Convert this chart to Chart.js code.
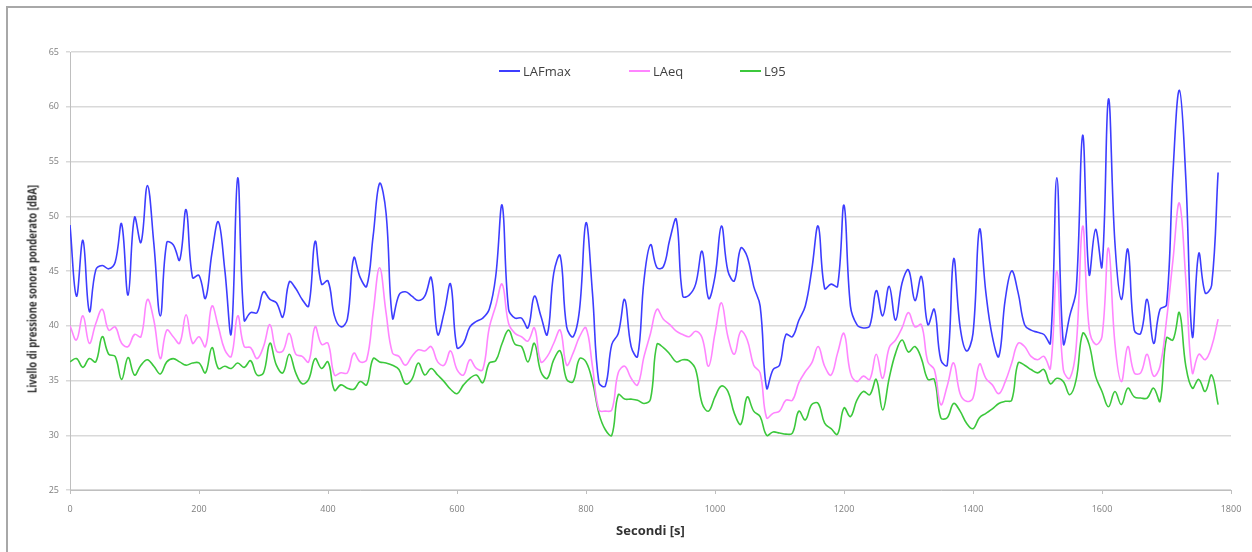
<!DOCTYPE html>
<html>
<head>
<meta charset="utf-8">
<title>Livello di pressione sonora</title>
<script src="https://cdn.jsdelivr.net/npm/chart.js@4.4.1/dist/chart.umd.min.js"></script>
<style>
  html, body { margin: 0; padding: 0; background: #ffffff; }
  #wrap { position: relative; width: 1252px; height: 552px; overflow: hidden; background: #fff; }
  #frame { position: absolute; left: 6px; top: 6px; width: 1300px; height: 600px;
           border-top: 2px solid #a8a8a8; border-left: 2px solid #a8a8a8; box-sizing: border-box; }
  #chart { position: absolute; left: 0; top: 0; }
  .leg { position: absolute; top: 61px; height: 20px; display: flex; align-items: center;
         font-family: 'Open Sans', sans-serif; font-size: 13px; color: #404040; }
  .leg span.sw { display: inline-block; width: 21px; height: 2px; margin-right: 3px; }
  #ytitle { position: absolute; left: 32px; top: 289px; white-space: nowrap;
            font-family: 'Open Sans', sans-serif; font-size: 12px; font-weight: bold; color: #333333;
            transform: translate(-50%, -50%) rotate(-90deg) scaleX(0.8); }
</style>
</head>
<body>
<div id="wrap">
  <div id="frame"></div>
  <canvas id="chart" width="1252" height="552"></canvas>
  <div id="legend"></div>
  <div id="ytitle"></div>
</div>
<script>
// Time of each sample [s]
const seconds = [
  0,10,20,30,40,50,60,70,80,90,
  100,110,120,130,140,150,160,170,180,190,
  200,210,220,230,240,250,260,270,280,290,
  300,310,320,330,340,350,360,370,380,390,
  400,410,420,430,440,450,460,470,480,490,
  500,510,520,530,540,550,560,570,580,590,
  600,610,620,630,640,650,660,670,680,690,
  700,710,720,730,740,750,760,770,780,790,
  800,810,820,830,840,850,860,870,880,890,
  900,910,920,930,940,950,960,970,980,990,
  1000,1010,1020,1030,1040,1050,1060,1070,1080,1090,
  1100,1110,1120,1130,1140,1150,1160,1170,1180,1190,
  1200,1210,1220,1230,1240,1250,1260,1270,1280,1290,
  1300,1310,1320,1330,1340,1350,1360,1370,1380,1390,
  1400,1410,1420,1430,1440,1450,1460,1470,1480,1490,
  1500,1510,1520,1530,1540,1550,1560,1570,1580,1590,
  1600,1610,1620,1630,1640,1650,1660,1670,1680,1690,
  1700,1710,1720,1730,1740,1750,1760,1770,1780
];

// LAFmax [dBA]
const lafmax = [
  49.2,42.7,47.8,41.3,45.1,45.5,45.2,45.8,49.3,42.8,
  49.9,47.6,52.8,47.5,40.9,47.6,47.4,46.0,50.6,44.4,
  44.6,42.5,46.6,49.5,45.1,39.3,53.5,40.5,41.2,41.2,
  43.1,42.4,42.1,40.8,44.0,43.4,42.4,41.8,47.7,43.8,
  44.1,40.9,39.9,40.6,46.2,44.4,43.6,48.2,53.0,50.3,
  40.7,42.8,43.1,42.7,42.3,42.7,44.4,39.2,41.2,43.8,
  38.0,38.4,39.9,40.4,40.7,41.5,44.5,51.0,41.5,40.7,
  40.7,39.8,42.7,40.9,39.2,44.8,46.4,39.9,39.0,41.5,
  49.4,43.0,34.8,34.5,38.3,39.3,42.4,38.1,37.2,44.2,
  47.4,45.3,45.4,47.9,49.7,42.7,42.8,43.8,46.8,42.5,
  44.5,49.1,45.0,44.1,47.1,46.3,43.6,41.8,34.3,36.0,
  36.4,39.2,39.0,40.5,41.8,45.1,49.1,43.4,43.8,43.6,
  51.0,41.8,40.1,39.8,40.0,43.2,40.9,43.6,40.5,43.9,
  45.1,42.3,44.5,40.1,41.5,36.9,36.4,46.1,39.9,37.7,
  39.3,48.8,43.0,39.0,37.2,42.4,45.0,43.0,40.1,39.6,
  39.4,39.2,38.4,53.5,38.4,40.9,43.3,57.4,44.7,48.8,
  45.4,60.7,47.6,42.4,47.0,39.6,39.3,42.4,38.4,41.5,
  41.9,54.0,61.5,53.4,39.0,46.6,43.0,43.7,54.0
];

// LAeq [dBA]
const laeq = [
  40.0,38.7,40.9,38.4,40.2,41.5,39.6,39.9,38.4,38.1,
  39.2,39.0,42.4,40.5,37.0,39.6,39.0,38.4,41.0,38.4,
  39.0,38.1,41.8,39.9,37.8,37.2,40.9,38.1,38.0,37.0,
  38.1,40.1,37.7,37.7,39.3,37.4,37.2,36.7,39.9,38.3,
  38.4,35.5,35.7,35.7,37.5,36.7,36.9,41.2,45.3,41.2,
  37.5,37.2,36.4,37.2,37.8,37.7,38.1,36.7,36.4,37.7,
  36.0,35.5,36.9,36.1,36.0,39.8,41.8,43.8,40.2,39.3,
  39.0,38.6,39.8,36.7,37.2,38.4,39.6,36.4,37.5,39.0,
  39.8,36.3,32.3,32.2,32.3,35.7,36.3,35.2,34.6,37.2,
  39.3,41.5,40.6,40.1,39.5,39.2,39.0,39.5,38.9,36.3,
  39.3,42.1,39.0,37.4,39.5,38.7,36.4,35.7,31.6,32.0,
  32.2,33.2,33.2,34.8,35.8,36.6,38.1,36.3,35.5,37.5,
  39.3,35.7,34.9,35.4,35.1,37.4,35.2,38.0,38.7,39.8,
  41.2,39.9,40.1,36.7,36.0,32.8,34.5,36.6,33.8,33.1,
  33.4,36.5,35.2,34.6,33.8,34.9,36.6,38.4,38.1,37.2,
  36.9,37.2,36.1,45.0,36.0,35.2,38.1,49.1,39.8,38.3,
  39.0,47.1,38.4,34.9,38.1,35.7,35.7,37.4,35.4,36.3,
  40.5,46.0,51.2,44.2,35.7,37.4,36.9,38.1,40.6
];

// L95 [dBA]
const l95 = [
  36.7,37.0,36.2,37.0,36.7,39.0,37.4,37.2,35.1,37.1,
  35.5,36.4,36.9,36.3,35.6,36.7,37.0,36.7,36.4,36.6,
  36.6,35.7,38.0,36.1,36.3,36.1,36.6,36.2,36.8,35.5,
  35.7,38.4,36.4,35.7,37.4,35.7,34.7,35.1,37.0,36.1,
  36.7,34.1,34.6,34.3,34.2,34.9,34.6,37.0,36.7,36.6,
  36.4,36.0,34.7,35.1,36.6,35.5,36.1,35.5,34.9,34.2,
  33.8,34.6,35.2,35.5,34.8,36.6,36.8,38.4,39.6,38.3,
  38.1,36.7,38.4,35.8,35.2,36.9,37.7,35.1,34.9,37.0,
  36.7,34.9,32.0,30.5,30.0,33.7,33.3,33.3,33.2,32.9,
  33.3,38.3,38.0,37.4,36.7,36.9,36.8,36.0,32.9,32.2,
  33.5,34.5,34.0,32.0,31.0,33.5,32.2,31.7,30.0,30.3,
  30.2,30.1,30.2,32.2,31.4,32.8,32.9,31.1,30.6,30.1,
  32.5,31.7,33.2,34.0,33.7,35.1,32.3,35.2,37.5,38.7,
  37.6,38.1,37.0,35.1,35.1,31.6,31.6,32.9,32.2,31.1,
  30.6,31.6,32.0,32.4,32.9,33.1,33.2,36.6,36.4,36.0,
  35.7,36.0,34.7,35.2,34.9,33.7,35.1,39.3,38.3,35.4,
  34.0,32.6,34.0,32.8,34.3,33.5,33.4,33.4,34.3,33.1,
  38.9,38.7,41.2,36.3,34.3,35.1,34.0,35.5,32.8
];

// Axis ranges and tick steps
const xTicks = { min: 0, max: 1800, step: 200 };
const yTicks = { min: 25, max: 65, step: 5 };

const xTitle = 'Secondi [s]';
const yTitle = 'Livello di pressione sonora ponderato [dBA]';

const seriesNames  = ['LAFmax', 'LAeq', 'L95'];
const seriesColors = ['#3d3dff', '#ff85ff', '#3cc83c'];
const seriesValues = [lafmax, laeq, l95];

const toPoints = vals => seconds.map((s, i) => ({ x: s, y: vals[i] }));

const tickFont = { family: "'Open Sans', sans-serif", size: 9 };

new Chart(document.getElementById('chart'), {
  type: 'line',
  data: {
    datasets: seriesNames.map((name, i) => ({
      label: name,
      data: toPoints(seriesValues[i]),
      borderColor: seriesColors[i],
      backgroundColor: seriesColors[i],
      borderWidth: 1.6,
      pointRadius: 0,
      tension: 0.4,
      fill: false
    }))
  },
  options: {
    responsive: false,
    animation: false,
    devicePixelRatio: 1,
    layout: { padding: { top: 52, right: 21, left: 0, bottom: 0 } },
    plugins: { legend: { display: false }, tooltip: { enabled: false } },
    scales: {
      x: {
        type: 'linear',
        min: xTicks.min, max: xTicks.max,
        ticks: { stepSize: xTicks.step, color: '#7f7f7f', font: tickFont, padding: 10, maxRotation: 0,
                 callback: v => String(v) },
        grid: { drawOnChartArea: false, color: '#bfbfbf', tickLength: 4 },
        border: { color: '#bfbfbf', width: 1 },
        title: { display: true, text: xTitle, color: '#333333',
                 font: { family: "'Open Sans', sans-serif", size: 13, weight: 'bold' },
                 padding: { top: 0, bottom: 13 } },
        afterFit(scale) { scale.height = 62; }
      },
      y: {
        min: yTicks.min, max: yTicks.max,
        ticks: { stepSize: yTicks.step, color: '#7f7f7f', font: tickFont, padding: 7,
                 callback: v => String(v) },
        grid: { color: '#d9d9d9', lineWidth: 1.5, tickLength: 4 },
        border: { color: '#bfbfbf', width: 1 },
        afterFit(scale) { scale.width = 70; }
      }
    }
  }
});

document.getElementById('ytitle').textContent = yTitle;

// Legend placed inside the plot area, above the curves
const legendX = [499, 629, 740];
const legend = document.getElementById('legend');
seriesNames.forEach((name, i) => {
  const item = document.createElement('div');
  item.className = 'leg';
  item.style.left = legendX[i] + 'px';
  const sw = document.createElement('span');
  sw.className = 'sw';
  sw.style.background = seriesColors[i];
  item.appendChild(sw);
  item.appendChild(document.createTextNode(name));
  legend.appendChild(item);
});
</script>
</body>
</html>
